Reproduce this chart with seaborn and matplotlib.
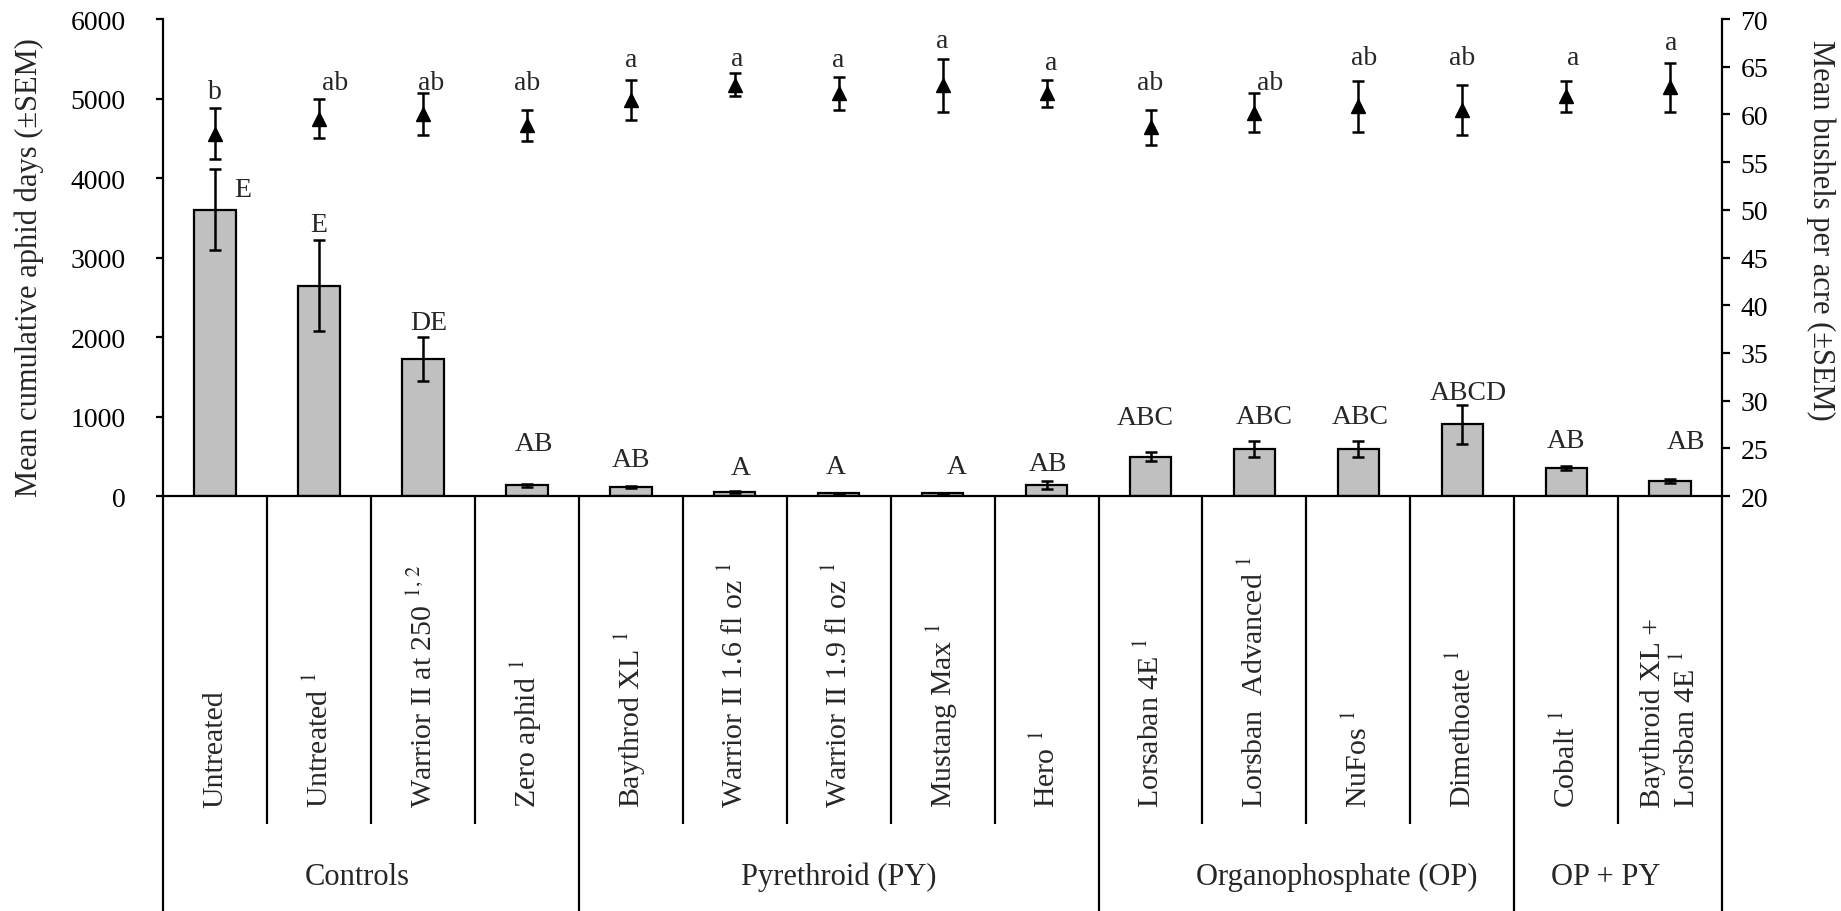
import numpy as np
import pandas as pd
import matplotlib
matplotlib.use("Agg")
import matplotlib.pyplot as plt
import seaborn as sns

# treatments (x categories), in plotting order
treatments = [
    "Untreated",
    "Untreated $^{1}$",
    "Warrior II at 250 $^{1,\\,2}$",
    "Zero aphid $^{1}$",
    "Baythrod XL $^{1}$",
    "Warrior II 1.6 fl oz $^{1}$",
    "Warrior II 1.9 fl oz $^{1}$",
    "Mustang Max $^{1}$",
    "Hero $^{1}$",
    "Lorsaban 4E $^{1}$",
    "Lorsban  Advanced $^{1}$",
    "NuFos $^{1}$",
    "Dimethoate $^{1}$",
    "Cobalt $^{1}$",
    "Baythroid XL +\nLorsban 4E $^{1}$",
]

# mean cumulative aphid days (bars, left axis)
aphid_days = [3600, 2645, 1725, 135, 117, 55, 35, 35, 137, 495, 590, 590, 900, 348, 190]
aphid_sem = [510, 570, 275, 20, 15, 12, 8, 8, 50, 58, 97, 97, 250, 25, 30]
aphid_letters = ["E", "E", "DE", "AB", "AB", "A", "A", "A", "AB", "ABC", "ABC", "ABC", "ABCD", "AB", "AB"]

# mean bushels per acre (triangles, right axis)
yield_bu = [58.0, 59.55, 60.0, 58.85, 61.5, 63.1, 62.2, 63.05, 62.2, 58.65, 60.2, 60.85, 60.45, 61.9, 62.85]
yield_sem = [2.67, 2.05, 2.2, 1.65, 2.1, 1.2, 1.7, 2.75, 1.4, 1.85, 2.0, 2.65, 2.65, 1.6, 2.55]
yield_letters = ["b", "ab", "ab", "ab", "a", "a", "a", "a", "a", "ab", "ab", "ab", "ab", "a", "a"]

# treatment classes along the bottom
groups = ["Controls", "Pyrethroid (PY)", "Organophosphate (OP)", "OP + PY"]
group_sizes = [4, 5, 4, 2]

df = pd.DataFrame({"treatment": treatments, "aphid": aphid_days})

sns.set_style("ticks")
plt.rcParams["font.family"] = ["Liberation Serif", "DejaVu Serif"]
plt.rcParams["mathtext.fontset"] = "stix"

fig = plt.figure(figsize=(18.41, 9.12), dpi=100)
ax = fig.add_axes([0.0885, 0.455, 0.847, 0.523])

sns.barplot(data=df, x="treatment", y="aphid", color="#c0c0c0", saturation=1,
            edgecolor="black", linewidth=1.6, width=0.4, ax=ax)
xpos = np.arange(len(treatments))
ax.errorbar(xpos, aphid_days, yerr=aphid_sem, fmt="none", ecolor="black",
            elinewidth=1.8, capsize=4, capthick=1.8)

ax.set_xlim(-0.5, len(treatments) - 0.5)
ax.set_ylim(0, 6000)
ax.set_yticks(range(0, 6001, 1000))
ax.set_xticks([])
ax.set_xlabel("")
ax.set_ylabel("")
for s in ["top", "right"]:
    ax.spines[s].set_visible(False)
for s in ["left", "bottom"]:
    ax.spines[s].set_linewidth(1.6)
    ax.spines[s].set_color("black")
ax.tick_params(axis="y", direction="out", length=5, width=1.6, pad=22,
               labelsize=20, colors="black")

ax2 = ax.twinx()
ax2.errorbar(xpos, yield_bu, yerr=yield_sem, fmt="^", color="black", ms=10,
             elinewidth=1.8, capsize=4, capthick=1.8)
ax2.set_ylim(20, 70)
ax2.set_yticks(range(20, 71, 5))
for s in ["top", "left", "bottom"]:
    ax2.spines[s].set_visible(False)
ax2.spines["right"].set_linewidth(1.6)
ax2.spines["right"].set_color("black")
ax2.tick_params(axis="y", direction="out", length=6, width=1.6, pad=7,
                labelsize=20, colors="black")

# letter placement nudges (points): dx, dy above the error bar top
bar_dx = [20, 0, 4, 5, 0, 4, -2, 10, 1, -4, 7, 1, 4, 0, 11]
bar_dy = [-19, 7, 6, 24, 14, 12, 14, 14, 8, 20, 13, 13, 4, 14, 22]
for i, lab in enumerate(aphid_letters):
    ax.annotate(lab, (xpos[i], aphid_days[i] + aphid_sem[i]),
                xytext=(bar_dx[i], bar_dy[i]), textcoords="offset points",
                ha="center", va="baseline", fontsize=20)

tri_dx = [0, 12, 6, 0, 0, 2, 0, 0, 3, 0, 11, 4, 0, 5, 1]
tri_dy = [7, 7, 3, 15, 10, 6, 8, 9, 8, 15, 3, 12, 15, 12, 10]
for i, lab in enumerate(yield_letters):
    ax2.annotate(lab, (xpos[i], yield_bu[i] + yield_sem[i]),
                 xytext=(tri_dx[i], tri_dy[i]), textcoords="offset points",
                 ha="center", va="baseline", fontsize=20)

# table-like category area below the axis
xt = ax.get_xaxis_transform()
cat_bottom = -0.688
fig_bottom = -0.87
bounds = np.cumsum([0] + group_sizes) - 0.5
for b in np.arange(-0.5, len(treatments)):
    yb = fig_bottom if np.isclose(bounds, b).any() else cat_bottom
    ax.plot([b, b], [0, yb], transform=xt, color="black", lw=1.6,
            clip_on=False, solid_capstyle="butt")

for i, lab in enumerate(treatments):
    ax.text(xpos[i], -0.652, lab, transform=xt, rotation=90,
            rotation_mode="anchor", ha="left", va="center", fontsize=21.5,
            linespacing=1.25)

group_dx = [-0.13, 0, 0.29, -0.12]
for g, name in enumerate(groups):
    cx = (bounds[g] + bounds[g + 1]) / 2 + group_dx[g]
    ax.text(cx, -0.797, name, transform=xt, ha="center", va="center", fontsize=22)

fig.text(0.0158, 0.707, "Mean cumulative aphid days (\u00b1SEM)", rotation=90,
         ha="center", va="center", fontsize=22)
fig.text(0.989, 0.747, "Mean bushels per acre (\u00b1SEM)", rotation=-90,
         ha="center", va="center", fontsize=22)

fig.savefig("out.png", dpi=100)
